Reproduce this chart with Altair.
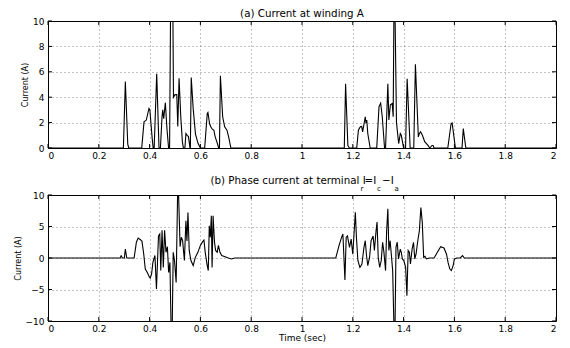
import altair as alt
import pandas as pd

# ---------------- data ----------------
time_a = [0, 0.2968, 0.3045, 0.314, 0.318,
          0.369, 0.378, 0.387, 0.3975, 0.401, 0.41, 0.414,
          0.418, 0.428, 0.437,
          0.4426, 0.449, 0.4516, 0.4555, 0.462, 0.4684, 0.4748,
          0.4787, 0.4826, 0.486, 0.4916, 0.494, 0.5, 0.507, 0.511, 0.516, 0.5226, 0.529, 0.533,
          0.539, 0.543, 0.548, 0.553, 0.559,
          0.5605, 0.5639, 0.5716, 0.5806, 0.591, 0.6,
          0.6168, 0.627, 0.6297, 0.636, 0.641, 0.646, 0.653, 0.658, 0.666, 0.672,
          0.675, 0.6787, 0.6877, 0.6955, 0.7045, 0.711, 0.72,
          1.1665, 1.1716, 1.1806, 1.186,
          1.2155, 1.222, 1.2297, 1.235, 1.2387, 1.249, 1.252, 1.255, 1.259, 1.2684,
          1.2942, 1.3032, 1.3097, 1.316, 1.325,
          1.329, 1.338, 1.342, 1.348, 1.355, 1.359, 1.362, 1.364, 1.366, 1.372, 1.3806, 1.387, 1.391, 1.4,
          1.4077, 1.414, 1.4258,
          1.44, 1.4465, 1.458, 1.462, 1.467, 1.4705, 1.474, 1.483, 1.496, 1.503, 1.512, 1.516, 1.52,
          1.574, 1.587, 1.591, 1.604,
          1.63, 1.635, 1.645, 2.0]
current_a = [0, 0, 5.24, 0.3, 0,
             0, 2.06, 2.2, 3.12, 3.0, 0.8, 0,
             0, 5.85, 0,
             0, 2.46, 3.0, 2.3, 3.57, 1.5, 0,
             0, 11, 14, 11, 4.0, 4.2, 4.2, 1.7, 5.5, 2.5, 0.5, 0,
             0, 1.14, 1.0, 0.9, 0,
             0, 5.55, 3.1, 1.1, 0.35, 0,
             0, 2.72, 2.8, 1.93, 1.67, 1.5, 1.4, 0.9, 0.4, 0,
             0, 5.69, 2.46, 1.67, 1.4, 0.9, 0,
             0, 5.05, 0.2, 0,
             0, 1.4, 1.67, 1.7, 1.27, 2.46, 1.95, 2.2, 1.14, 0,
             0, 3.25, 3.52, 2.46, 0,
             0, 5.05, 2.2, 3.4, 3.5, 2.46, 11, 14, 11, 2.0, 0.35, 1.14, 1.0, 0,
             0, 5.45, 0,
             0, 6.6, 0.87, 1.14, 1.27, 1.14, 1.0, 0.5, 0.2, 0, 0.2, 0.2, 0,
             0, 1.93, 1.98, 0,
             0, 1.53, 0, 0]

time_b = [0, 0.284, 0.288, 0.293, 0.3006, 0.3045, 0.31, 0.339, 0.348, 0.355, 0.364, 0.37,
          0.377, 0.383, 0.391, 0.399, 0.4026, 0.408, 0.413, 0.421, 0.427, 0.435, 0.44, 0.444,
          0.449, 0.454, 0.459, 0.4645, 0.47, 0.475, 0.48, 0.485, 0.489, 0.493, 0.498, 0.5045,
          0.511, 0.5135, 0.52, 0.525, 0.53, 0.537, 0.543, 0.547, 0.551, 0.556, 0.5626, 0.5716,
          0.58, 0.59, 0.6, 0.609, 0.614, 0.619, 0.626, 0.631, 0.635, 0.639, 0.643, 0.646, 0.65,
          0.6555, 0.66, 0.666, 0.671, 0.677, 0.684, 0.697, 0.71, 0.7226, 0.735,
          1.133, 1.146, 1.156, 1.161, 1.169, 1.174, 1.179, 1.187, 1.1935, 1.2, 1.21, 1.214,
          1.22, 1.228, 1.236, 1.244, 1.249, 1.254, 1.259, 1.266, 1.272, 1.28, 1.285, 1.2916,
          1.2955, 1.3, 1.306, 1.312, 1.3174, 1.3226, 1.329, 1.333, 1.338, 1.342, 1.347, 1.352,
          1.357, 1.3626, 1.366, 1.37, 1.375, 1.38, 1.387, 1.391, 1.395, 1.401, 1.408, 1.413,
          1.418, 1.423, 1.427, 1.4335, 1.439, 1.444, 1.449, 1.455, 1.462, 1.468, 1.4735, 1.479,
          1.484, 1.49, 1.5, 1.52, 1.533, 1.546, 1.559, 1.569, 1.575, 1.582, 1.588, 1.595, 1.6,
          1.61, 1.623, 1.632, 1.639, 2.0]
current_b = [0, 0, 0.37, 0, 0, 1.43, 0, 0, 2.5, 3.17, 2.9, 2.65,
             0.6, -1.75, -2.3, -3.0, -3.2, -2.5, -0.7, 0.4, -4.9, 3.5, 3.8, -2.0,
             4.4, -1.5, 4.4, 0.9, 1.8, -2.3, -0.7, -12, -11, 0.9, -0.4, -3.9,
             12, 11, 1.8, 3.3, 2.75, -0.4, 5.9, 2.7, 7.2, 1.2, -0.4, -1.2,
             0.1, 0.9, 2.0, 2.6, 2.85, 0.9, -1.0, -2.0, 5.1, 3.3, 6.7, -1.5, 6.7,
             2.5, 1.2, 0.9, 2.0, 0.9, 0.4, 0.2, 0, -0.15, 0,
             0, 2.0, 3.3, 3.8, -3.5, 3.3, 3.5, 1.7, 3.0, 0.6, 7.25, 3.5,
             -0.4, -1.5, -0.95, 1.7, 2.75, 0.4, -1.2, 0.1, 2.75, 3.5, 1.2, 4.3,
             5.7, 0.1, -1.5, -0.4, 2.5, 0.9, -2.0, 4.1, 7.8, 1.2, 2.75, 0.4,
             -2.0, -12, -12, 1.7, 2.5, -0.15, 1.4, 0.9, -0.15, -0.4, -1.5, -6.0,
             1.2, 0.9, -0.95, 1.4, 2.5, -0.15, 0.6, 2.5, 4.3, 8.0, 5.7, 0.1,
             0.25, -0.15, 0, 0, 0.9, 1.8, 1.6, 0.6, -0.7, -1.75, -2.0, -1.2, -0.15,
             0, 0, 0.37, 0, 0]

x_ticks = [0, 0.2, 0.4, 0.6, 0.8, 1.0, 1.2, 1.4, 1.6, 1.8, 2.0]
y_ticks_a = [0, 2, 4, 6, 8, 10]
y_ticks_b = [-10, -5, 0, 5, 10]

title_a = "(a) Current at winding A"
title_b_main = "(b) Phase current at terminal I"

W = 508
H_TOP, H_BOT = 127, 126
FONT = "DejaVu Sans"
TFS = 10.3

df_a = pd.DataFrame({"t": time_a, "i": current_a})
df_b = pd.DataFrame({"t": time_b, "i": current_b})
xt = pd.DataFrame({"v": x_ticks})


def panel(df, yticks, ydom, xtitle, H, title_layers):
    xs = alt.Scale(domain=[0, 2], nice=False)
    ys = alt.Scale(domain=ydom, nice=False)
    xaxis = alt.Axis(values=x_ticks, format=".1~f", title=xtitle, labelPadding=3,
                     titlePadding=0, labelOverlap=False)
    yaxis = alt.Axis(values=yticks, title="Current (A)", labelPadding=4, titlePadding=3,
                     titleFontSize=8, labelOverlap=False)
    line = alt.Chart(df).mark_line(color="black", strokeWidth=1.1, clip=True).encode(
        x=alt.X("t:Q", scale=xs, axis=xaxis),
        y=alt.Y("i:Q", scale=ys, axis=yaxis),
    )
    yt = pd.DataFrame({"v": yticks})
    tick_top = alt.Chart(xt).mark_rule(color="black").encode(
        x=alt.X("v:Q", scale=xs, axis=xaxis), y=alt.value(0), y2=alt.value(4))
    tick_bot = alt.Chart(xt).mark_rule(color="black").encode(
        x=alt.X("v:Q", scale=xs, axis=xaxis), y=alt.value(H), y2=alt.value(H - 4))
    tick_l = alt.Chart(yt).mark_rule(color="black").encode(
        y=alt.Y("v:Q", scale=ys, axis=yaxis), x=alt.value(0), x2=alt.value(4))
    tick_r = alt.Chart(yt).mark_rule(color="black").encode(
        y=alt.Y("v:Q", scale=ys, axis=yaxis), x=alt.value(W), x2=alt.value(W - 4))
    return alt.layer(line, tick_top, tick_bot, tick_l, tick_r, *title_layers).properties(
        width=W, height=H)


def txt(s, x, y, size=TFS, align="left"):
    return alt.Chart(pd.DataFrame({"d": [0]})).mark_text(
        align=align, baseline="alphabetic", font=FONT, fontSize=size, color="black"
    ).encode(x=alt.value(x), y=alt.value(y), text=alt.value(s))


top = panel(df_a, y_ticks_a, [0, 10], None, H_TOP,
            [txt(title_a, W / 2, -4, align="center")])
x0 = W / 2 - 91.5
bottom = panel(df_b, y_ticks_b, [-10, 10], "Time (sec)", H_BOT,
               [txt(title_b_main, x0, -11),
                txt("r", x0 + 150, -4, size=7),
                txt("=I", x0 + 154, -11),
                txt("c", x0 + 166.5, -4, size=7),
                txt("\u2212I", x0 + 171.5, -11),
                txt("a", x0 + 184, -4, size=7)])

chart = alt.vconcat(top, bottom, spacing=47, bounds="flush").properties(
    padding={"left": 5, "top": 0, "right": 0, "bottom": 0}
).configure(background="white").configure_view(
    stroke="black", strokeWidth=1
).configure_axis(
    grid=True, gridColor="#000", gridDash=[1, 3], gridOpacity=0.6, gridWidth=0.8,
    domain=False, ticks=False, labelFont=FONT, labelFontSize=9, labelColor="black",
    titleFont=FONT, titleFontSize=9, titleFontWeight="normal", titleColor="black",
)

chart.save("out.html", embed_options={"renderer": "svg", "actions": False})
